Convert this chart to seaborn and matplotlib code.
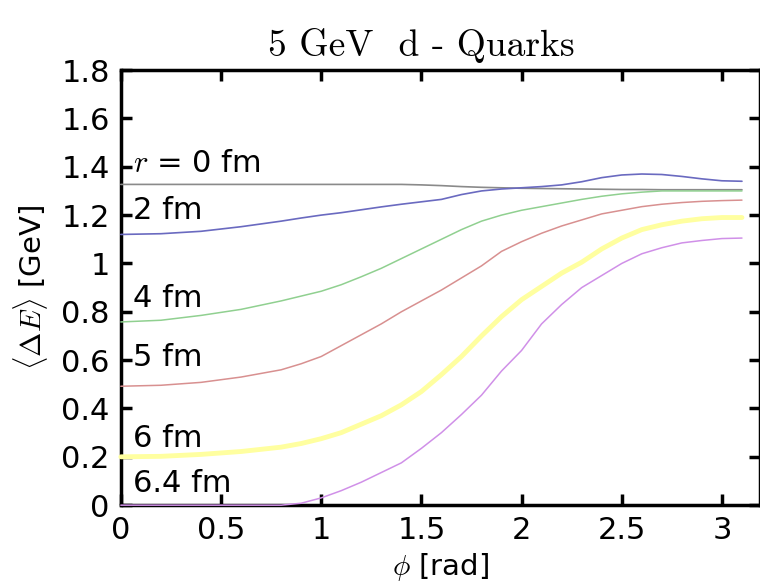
import numpy as np
import pandas as pd
import matplotlib
matplotlib.use('Agg')
import matplotlib.pyplot as plt
import seaborn as sns

# phi grid [rad] and <Delta E> [GeV] for each radius
phi = [0.0, 0.2, 0.4, 0.6, 0.8, 0.9, 1.0, 1.1, 1.2, 1.3, 1.4, 1.5, 1.6, 1.7,
       1.8, 1.9, 2.0, 2.1, 2.2, 2.3, 2.4, 2.5, 2.6, 2.7, 2.8, 2.9, 3.0, 3.1]
e_r0 = [1.327, 1.327, 1.327, 1.327, 1.327, 1.327, 1.327, 1.327, 1.327, 1.327, 1.327, 1.325, 1.322, 1.318,
        1.315, 1.313, 1.311, 1.310, 1.309, 1.308, 1.307, 1.306, 1.306, 1.305, 1.305, 1.305, 1.305, 1.305]
e_r2 = [1.12, 1.123, 1.133, 1.152, 1.175, 1.188, 1.20, 1.21, 1.222, 1.234, 1.245, 1.255, 1.265, 1.285,
        1.30, 1.308, 1.313, 1.318, 1.325, 1.338, 1.355, 1.366, 1.37, 1.368, 1.36, 1.35, 1.342, 1.34]
e_r4 = [0.758, 0.765, 0.785, 0.81, 0.845, 0.865, 0.885, 0.912, 0.945, 0.98, 1.02, 1.06, 1.10, 1.14,
        1.175, 1.20, 1.22, 1.235, 1.25, 1.265, 1.278, 1.288, 1.295, 1.30, 1.30, 1.30, 1.30, 1.30]
e_r5 = [0.492, 0.496, 0.508, 0.53, 0.56, 0.585, 0.615, 0.66, 0.705, 0.75, 0.80, 0.845, 0.89, 0.94,
        0.99, 1.05, 1.09, 1.125, 1.155, 1.18, 1.205, 1.22, 1.235, 1.245, 1.252, 1.257, 1.26, 1.262]
e_r6 = [0.20, 0.202, 0.21, 0.222, 0.24, 0.255, 0.275, 0.30, 0.335, 0.37, 0.415, 0.47, 0.54, 0.615,
        0.70, 0.78, 0.85, 0.905, 0.96, 1.005, 1.06, 1.105, 1.14, 1.16, 1.175, 1.185, 1.19, 1.19]
e_r64 = [0.0, 0.0, 0.0, 0.0, 0.0, 0.008, 0.03, 0.06, 0.095, 0.135, 0.175, 0.235, 0.30, 0.375,
         0.455, 0.555, 0.64, 0.75, 0.83, 0.90, 0.95, 1.0, 1.04, 1.065, 1.085, 1.095, 1.103, 1.105]

radii = ['0', '2', '4', '5', '6', '6.4']
labels = [r'$r$ = 0 fm', '2 fm', '4 fm', '5 fm', '6 fm', '6.4 fm']
label_y = [1.415, 1.22, 0.857, 0.61, 0.277, 0.09]
colors = ['#8a8a8a', '#6a6ac0', '#90d090', '#d89090', '#ffffa0', '#d090e8']
widths = [1.2, 1.2, 1.1, 1.1, 3.5, 1.1]

curves = [e_r0, e_r2, e_r4, e_r5, e_r6, e_r64]
df = pd.concat([pd.DataFrame({'phi': phi, 'dE': c, 'r': r}) for r, c in zip(radii, curves)])

sns.set_style('ticks')
plt.rcParams['font.family'] = ['DejaVu Sans']
plt.rcParams['mathtext.fontset'] = 'cm'
plt.rcParams['text.color'] = 'black'
plt.rcParams['axes.labelcolor'] = 'black'

fig = plt.figure(figsize=(7.6, 5.84), dpi=100)
ax = fig.add_axes([0.159, 0.135, 0.841, 0.745])

sns.lineplot(data=df, x='phi', y='dE', hue='r', palette=dict(zip(radii, colors)),
             legend=False, ax=ax, sort=False)
for line, w in zip(ax.get_lines(), widths):
    line.set_linewidth(w)
    line.set_clip_on(False)
    line.set_zorder(5)

for lab, y in zip(labels, label_y):
    ax.text(0.06, y, lab, fontsize=22, va='center', ha='left', color='black')

ax.set_xlim(0, 3.19)
ax.set_ylim(0, 1.8)
ax.set_xticks([0, 0.5, 1, 1.5, 2, 2.5, 3])
ax.set_xticklabels(['0', '0.5', '1', '1.5', '2', '2.5', '3'])
ax.set_yticks(np.arange(0, 1.81, 0.2))
ax.set_yticklabels(['0', '0.2', '0.4', '0.6', '0.8', '1', '1.2', '1.4', '1.6', '1.8'])
ax.tick_params(direction='in', length=8, width=2.5, labelsize=22, top=True, right=True,
               pad=8, labelcolor='black', color='black')
for s in ax.spines.values():
    s.set_linewidth(2.5)
    s.set_color('black')

ax.set_xlabel(r'$\phi$ [rad]', fontsize=21, labelpad=4)
ax.set_ylabel(r'$\langle\Delta E\rangle$ [GeV]', fontsize=21, labelpad=8)
ax.set_title('5 GeV  d - Quarks', fontsize=27, family='cmr10', pad=10, x=0.47)

fig.savefig('out.png', dpi=100)
